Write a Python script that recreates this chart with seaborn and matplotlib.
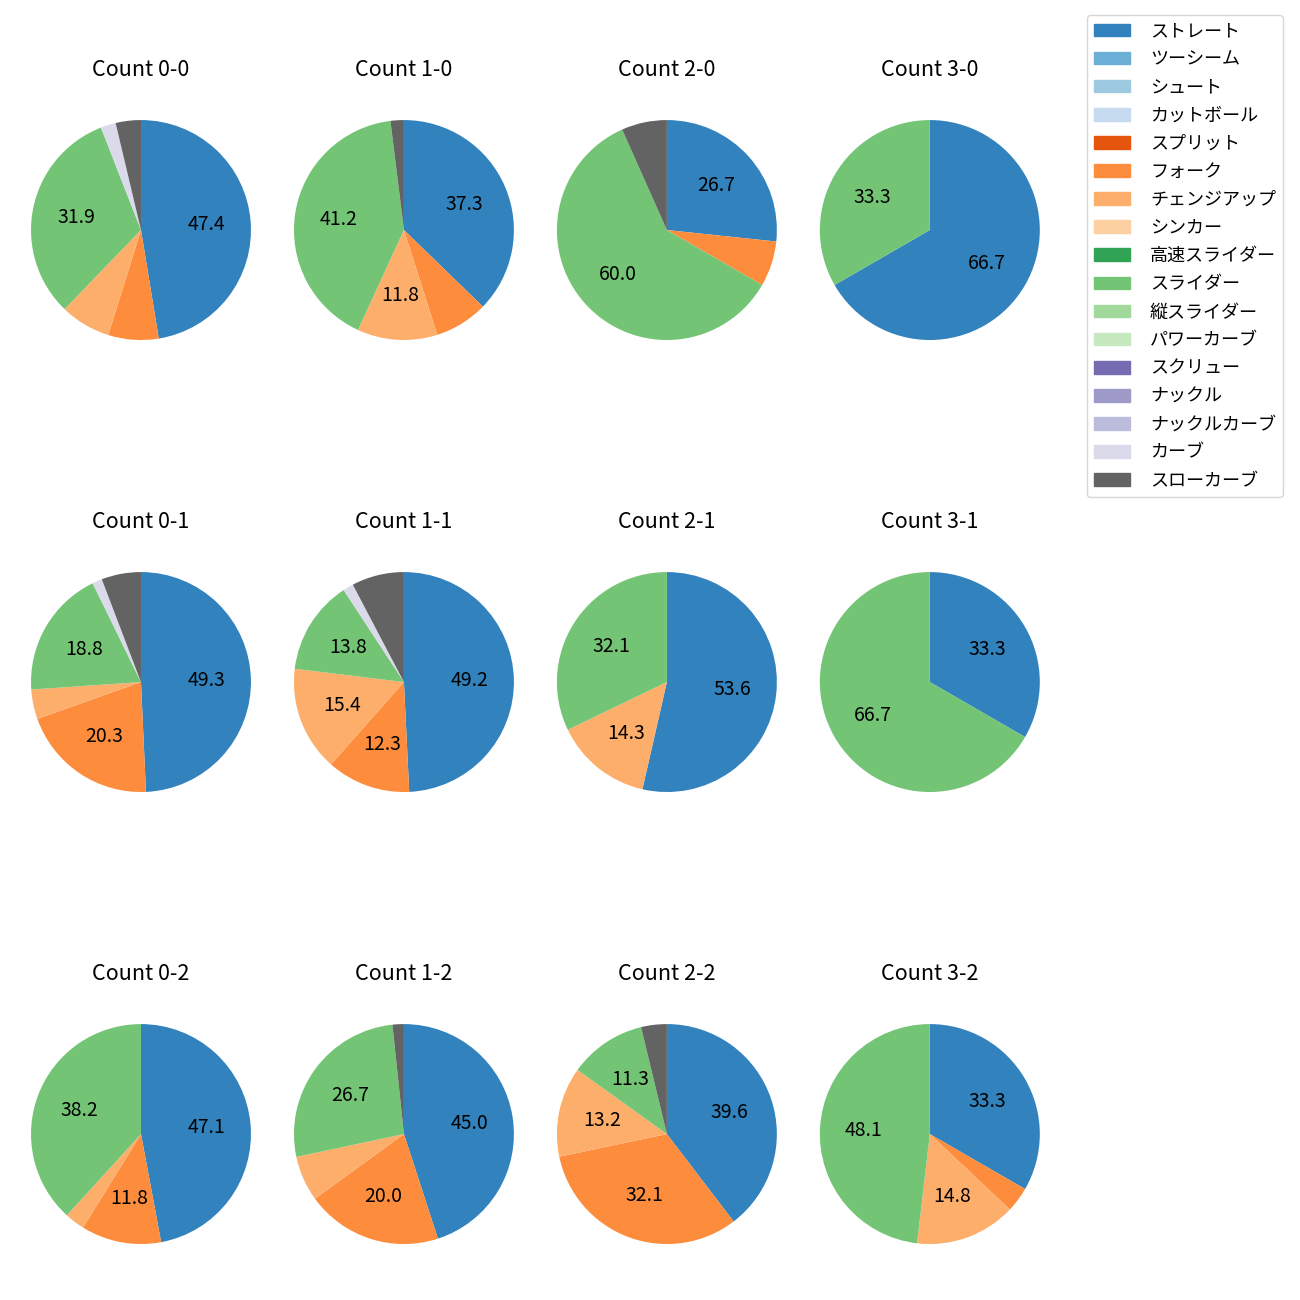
import matplotlib
matplotlib.use('Agg')
import matplotlib.pyplot as plt
import seaborn as sns
from matplotlib.patches import Patch

plt.rcParams['font.family'] = ['Noto Sans CJK JP', 'DejaVu Sans']
plt.rcParams['font.size'] = 13

# pitch types (legend order)
pitches = ['ストレート', 'ツーシーム', 'シュート', 'カットボール', 'スプリット', 'フォーク',
           'チェンジアップ', 'シンカー', '高速スライダー', 'スライダー', '縦スライダー',
           'パワーカーブ', 'スクリュー', 'ナックル', 'ナックルカーブ', 'カーブ', 'スローカーブ']

# pitch counts per ball-strike count, same order as pitches
c_0_0 = [64, 0, 0, 0, 0, 10, 10, 0, 0, 43, 0, 0, 0, 0, 0, 3, 5]
c_1_0 = [19, 0, 0, 0, 0, 4, 6, 0, 0, 21, 0, 0, 0, 0, 0, 0, 1]
c_2_0 = [4, 0, 0, 0, 0, 1, 0, 0, 0, 9, 0, 0, 0, 0, 0, 0, 1]
c_3_0 = [2, 0, 0, 0, 0, 0, 0, 0, 0, 1, 0, 0, 0, 0, 0, 0, 0]
c_0_1 = [34, 0, 0, 0, 0, 14, 3, 0, 0, 13, 0, 0, 0, 0, 0, 1, 4]
c_1_1 = [32, 0, 0, 0, 0, 8, 10, 0, 0, 9, 0, 0, 0, 0, 0, 1, 5]
c_2_1 = [15, 0, 0, 0, 0, 0, 4, 0, 0, 9, 0, 0, 0, 0, 0, 0, 0]
c_3_1 = [1, 0, 0, 0, 0, 0, 0, 0, 0, 2, 0, 0, 0, 0, 0, 0, 0]
c_0_2 = [16, 0, 0, 0, 0, 4, 1, 0, 0, 13, 0, 0, 0, 0, 0, 0, 0]
c_1_2 = [27, 0, 0, 0, 0, 12, 4, 0, 0, 16, 0, 0, 0, 0, 0, 0, 1]
c_2_2 = [21, 0, 0, 0, 0, 17, 7, 0, 0, 6, 0, 0, 0, 0, 0, 0, 2]
c_3_2 = [9, 0, 0, 0, 0, 1, 4, 0, 0, 13, 0, 0, 0, 0, 0, 0, 0]

titles = ['Count 0-0', 'Count 1-0', 'Count 2-0', 'Count 3-0',
          'Count 0-1', 'Count 1-1', 'Count 2-1', 'Count 3-1',
          'Count 0-2', 'Count 1-2', 'Count 2-2', 'Count 3-2']
all_counts = [c_0_0, c_1_0, c_2_0, c_3_0, c_0_1, c_1_1, c_2_1, c_3_1,
              c_0_2, c_1_2, c_2_2, c_3_2]

colors = sns.color_palette('tab20c', 17)

fig, axes = plt.subplots(3, 4, figsize=(13, 13), dpi=100)
fig.subplots_adjust(left=0.0027, right=0.821, top=0.9288, bottom=0.0219,
                    wspace=-0.0436, hspace=0.644)

for ax, title, counts in zip(axes.flat, titles, all_counts):
    vals = [v for v in counts if v > 0]
    cols = [colors[i] for i, v in enumerate(counts) if v > 0]
    ax.pie(vals, colors=cols, startangle=90, counterclock=False,
           wedgeprops={'linewidth': 0},
           textprops={'fontsize': 14, 'color': 'black'},
           autopct=lambda p: f'{p:.1f}' if p >= 10 else '')
    ax.set_title(title, fontsize=15.5, pad=12)

handles = [Patch(color=colors[i], label=p) for i, p in enumerate(pitches)]
fig.legend(handles=handles, loc='upper right', bbox_to_anchor=(0.987, 0.9885),
           borderaxespad=0, fontsize=13, labelspacing=0.56, handletextpad=1.1)

fig.savefig('out.png')
